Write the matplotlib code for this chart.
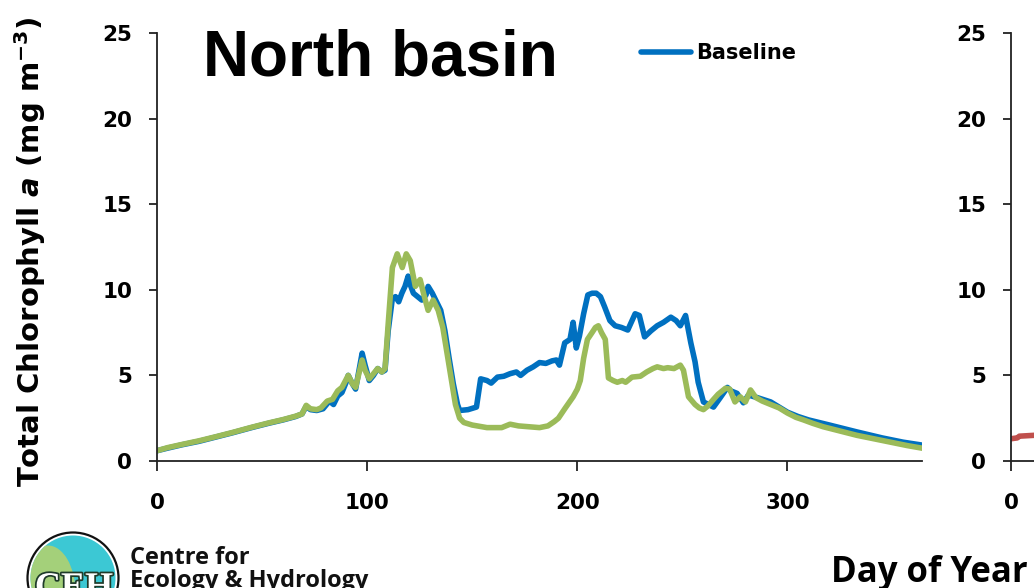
import matplotlib
matplotlib.use("Agg")
import matplotlib.pyplot as plt
from matplotlib.patches import Circle, Ellipse
from matplotlib.lines import Line2D
import matplotlib.patheffects as pe

# Modelled total chlorophyll a, north basin (day of year vs mg m-3)
baseline_days = [0, 5, 12, 20, 28, 36, 45, 53, 60, 66, 69, 71, 73, 76, 79, 82, 84, 86, 88, 90,
                 91, 93, 94.5, 97.6, 99, 101, 103, 105, 107, 108.5, 110, 112, 113.5, 115, 116.5,
                 118, 119.5, 120.5, 122, 124, 126, 128, 129, 131, 133, 135, 137, 139, 141, 143,
                 144, 148, 152, 154, 157, 159, 162, 165, 168, 171, 173, 176, 179, 182, 185, 188,
                 190, 191.5, 194, 196.5, 198, 199.5, 201, 203, 205, 207, 209, 211, 213, 215.5,
                 218, 221, 224, 227.5, 229.5, 232, 235, 238, 241, 244.5, 247, 249, 251.5, 254,
                 256, 257.5, 260, 264.8, 268, 271.4, 273, 276, 279, 281.4, 285.7, 292, 296, 300,
                 305, 310, 320, 333, 345, 355, 364]
baseline_chla = [0.6, 0.75, 0.95, 1.15, 1.4, 1.65, 1.95, 2.2, 2.4, 2.6, 2.75, 3.2, 3.0, 2.95, 3.05,
                 3.5, 3.3, 3.8, 4.0, 4.6, 5.0, 4.5, 4.2, 6.3, 5.6, 4.7, 5.0, 5.4, 5.2, 5.3, 7.6,
                 9.5, 9.6, 9.3, 9.8, 10.2, 10.8, 10.3, 9.8, 9.6, 9.4, 9.7, 10.2, 9.8, 9.3, 8.8,
                 7.6, 6.0, 4.5, 3.3, 2.95, 3.0, 3.15, 4.8, 4.7, 4.55, 4.9, 4.95, 5.1, 5.2, 5.0,
                 5.3, 5.5, 5.75, 5.7, 5.85, 5.9, 5.6, 6.9, 7.1, 8.1, 6.6, 7.3, 8.6, 9.7, 9.8,
                 9.8, 9.6, 9.0, 8.2, 7.9, 7.8, 7.65, 8.6, 8.5, 7.25, 7.6, 7.9, 8.1, 8.4, 8.2, 7.9,
                 8.5, 6.9, 5.8, 4.6, 3.45, 3.15, 3.7, 4.3, 4.1, 3.95, 3.4, 3.85, 3.7, 3.45, 3.15,
                 2.85, 2.6, 2.4, 2.1, 1.7, 1.35, 1.1, 0.93]

scenario_days = [0, 5, 12, 20, 28, 36, 45, 53, 60, 66, 69, 71, 73, 76, 78, 81, 83.5, 86, 88, 91,
                 93, 94.5, 97.6, 99, 101, 103, 105, 107, 108.5, 110, 112, 114.3, 116.7, 118.6,
                 120.5, 122.9, 125.2, 127, 129, 131.4, 133.8, 136, 138, 140, 142, 144, 146, 150,
                 157, 164, 168, 172, 177, 182, 186, 189, 191, 194.3, 198, 200, 201.4, 203, 204.8,
                 207, 208.6, 210, 211.5, 213.3, 214.8, 217, 219, 221.4, 223, 226, 230, 233, 236,
                 238, 241, 243, 246, 249, 250.5, 252.9, 256, 258, 260, 262, 264.8, 267, 270.5,
                 272.5, 275, 277.5, 280, 282.4, 285, 288, 292, 296, 300, 304, 307.6, 312, 317,
                 325, 333, 341, 349, 357, 364]
scenario_chla = [0.6, 0.78, 0.97, 1.18, 1.42, 1.67, 1.97, 2.22, 2.42, 2.62, 2.75, 3.25, 3.05, 3.0,
                 3.1, 3.5, 3.6, 4.1, 4.3, 5.0, 4.5, 4.3, 5.9, 5.3, 4.8, 5.1, 5.4, 5.2, 5.4, 8.0,
                 11.3, 12.1, 11.3, 12.1, 11.7, 10.2, 10.6, 9.7, 8.8, 9.4, 8.8, 7.8, 6.3, 4.8, 3.3,
                 2.5, 2.25, 2.1, 1.95, 1.95, 2.15, 2.05, 2.0, 1.95, 2.05, 2.3, 2.5, 3.1, 3.75, 4.2,
                 4.7, 6.0, 7.1, 7.5, 7.8, 7.9, 7.5, 7.1, 4.85, 4.7, 4.6, 4.7, 4.6, 4.9, 4.95, 5.2,
                 5.4, 5.5, 5.4, 5.45, 5.4, 5.6, 5.3, 3.75, 3.3, 3.1, 3.0, 3.2, 3.6, 3.9, 4.25, 4.2,
                 3.45, 3.75, 3.45, 4.15, 3.7, 3.5, 3.3, 3.1, 2.8, 2.55, 2.4, 2.2, 2.0, 1.75, 1.5,
                 1.3, 1.1, 0.9, 0.75]

# start of the south basin panel
south_days = [0, 3, 4, 11]
south_chla = [1.3, 1.35, 1.45, 1.5]

y_ticks = [0, 5, 10, 15, 20, 25]
x_ticks = [0, 100, 200, 300]

BLUE = "#0070C0"
GREEN = "#9BBB59"
RED = "#C0504D"
LW = 4


def style_axes(ax, xticks):
    ax.set_xlim(0, 364)
    ax.set_ylim(0, 25)
    ax.set_yticks(y_ticks)
    ax.set_xticks(xticks)
    for side in ["top", "right"]:
        ax.spines[side].set_visible(False)
    for side in ["left", "bottom"]:
        ax.spines[side].set_linewidth(1.3)
        ax.spines[side].set_color("#222222")
    ax.tick_params(axis="y", length=6, width=1.3, pad=12, color="#222222")
    ax.tick_params(axis="x", length=7, width=1.3, pad=16, color="#222222")
    for lab in ax.get_xticklabels() + ax.get_yticklabels():
        lab.set_fontfamily("DejaVu Sans")
        lab.set_fontweight("bold")
        lab.set_fontsize(15.5)


def draw_logo(fig):
    tr = fig.dpi_scale_trans
    ring = Circle((0.73, 0.10), 0.455, transform=tr, facecolor="white",
                  edgecolor="#111111", linewidth=1.6)
    disc = Circle((0.73, 0.10), 0.425, transform=tr, facecolor="#3CC8D4",
                  edgecolor="none")
    hill = Ellipse((0.48, -0.05), 0.55, 0.95, transform=tr, facecolor="#A4D07A",
                   edgecolor="none")
    for p in [ring, disc, hill]:
        fig.patches.append(p)
    hill.set_clip_path(disc)
    fig.text(0.74, -0.09, "CEH", transform=tr, ha="center", va="baseline",
             fontsize=26, fontweight="bold", family="Liberation Serif", color="white",
             path_effects=[pe.withStroke(linewidth=2.5, foreground="#1f3b2a")])
    fig.text(130 / 1034, 1 - 564 / 588, "Centre for", ha="left", va="baseline",
             fontsize=17, fontweight="bold", family="Open Sans", color="#111111")
    fig.text(130 / 1034, 1 - 587 / 588, "Ecology & Hydrology", ha="left", va="baseline",
             fontsize=17, fontweight="bold", family="Open Sans", color="#111111")


def create_chart():
    plt.rcParams["mathtext.fontset"] = "custom"
    plt.rcParams["mathtext.rm"] = "DejaVu Sans:bold"
    plt.rcParams["mathtext.bf"] = "DejaVu Sans:bold"
    plt.rcParams["mathtext.it"] = "DejaVu Sans:bold:italic"

    fig = plt.figure(figsize=(10.34, 5.88), dpi=100)
    bottom = 1 - 461 / 588
    height = (461 - 33) / 588
    width = (922 - 157) / 1034

    # North basin
    ax = fig.add_axes([157 / 1034, bottom, width, height])
    ax.plot(baseline_days, baseline_chla, color=BLUE, linewidth=LW, solid_joinstyle="round")
    ax.plot(scenario_days, scenario_chla, color=GREEN, linewidth=LW, solid_joinstyle="round")
    style_axes(ax, x_ticks)
    ax.set_ylabel(r"Total Chlorophyll $\mathit{a}$ (mg m$^{-3}$)", fontsize=21,
                  fontweight="bold", family="DejaVu Sans")
    ax.yaxis.set_label_coords((48 - 157) / 765, (461 - 252) / 428)

    handle = Line2D([], [], color=BLUE, linewidth=LW, solid_capstyle="round")
    ax.legend([handle], ["Baseline"], loc="center left",
              bbox_to_anchor=(641 / 1034, 1 - 53 / 588), bbox_transform=fig.transFigure,
              frameon=False, handlelength=2.4, handletextpad=0.25, borderpad=0,
              borderaxespad=0, prop={"family": "DejaVu Sans", "weight": "bold", "size": 15})

    # South basin panel (runs off the right edge)
    ax2 = fig.add_axes([1011 / 1034, bottom, width, height])
    ax2.plot(south_days, south_chla, color=RED, linewidth=LW)
    style_axes(ax2, [0])

    fig.text(203 / 1034, 1 - 75 / 588, "North basin", ha="left", va="baseline",
             fontsize=46, fontweight="bold", family="Liberation Sans")
    fig.text(831 / 1034, 1 - 582 / 588, "Day of Year", ha="left", va="baseline",
             fontsize=25, fontweight="bold", family="Open Sans")

    draw_logo(fig)
    fig.savefig("out.png", dpi=100)


if __name__ == "__main__":
    create_chart()
